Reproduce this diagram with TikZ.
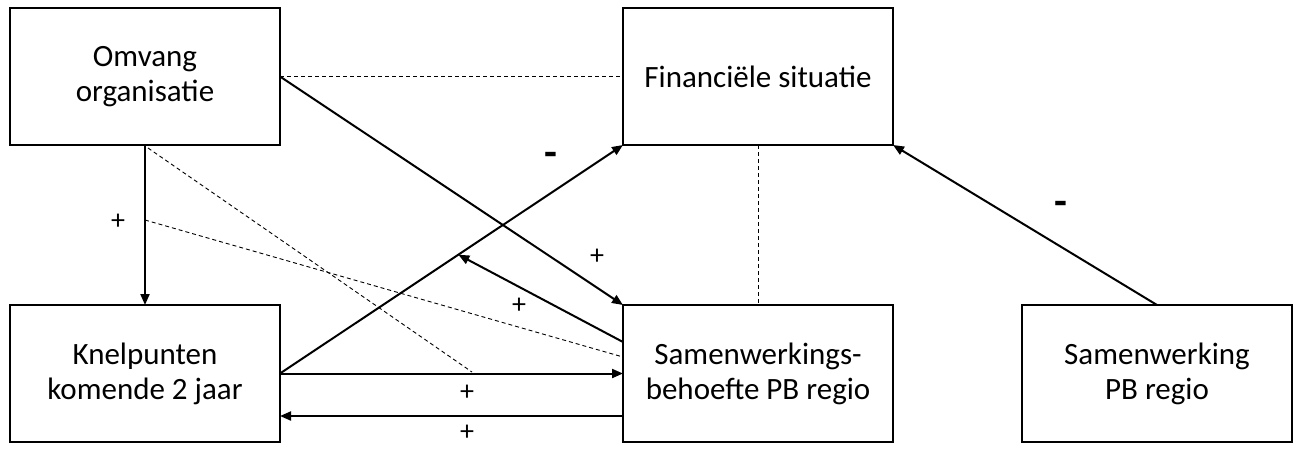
\documentclass[tikz,border=0pt]{standalone}
\usepackage{fontspec}
\setmainfont{Carlito}
\usetikzlibrary{arrows.meta,calc}
\begin{document}
\begin{tikzpicture}[x=1pt,y=-1pt,
  box/.style={draw, line width=2pt, minimum width=270pt, minimum height=137pt,
    inner sep=0pt, outer sep=0pt, align=center, font=\fontsize{31}{35}\selectfont},
  link/.style={line width=2pt, -{Triangle[length=11pt,width=9pt]}},
  dashline/.style={line width=0.9pt, dash pattern=on 4pt off 3pt},
  sign/.style={font=\fontsize{28}{30}\selectfont, inner sep=0pt},
  minus/.style={font=\fontsize{42}{42}\selectfont\bfseries, inner sep=0pt}]
\useasboundingbox (0,0) rectangle (1298,448);
\node[box] (omv) at (145,76.5) {Omvang\\organisatie};
\node[box] (fin) at (758,76.5) {Financiële situatie};
\node[box] (kn) at (145,373.5) {Knelpunten\\komende 2 jaar};
\node[box] (sb) at (758,373.5) {Samenwerkings-\\behoefte PB regio};
\node[box] (spb) at (1157,373.5) {Samenwerking\\PB regio};
% coordinates
\coordinate (d1s) at (148,148);
\coordinate (d1e) at (472,372);
\coordinate (d2s) at (145,220);
\coordinate (m) at ($(kn.east)!0.52!(fin.south west)$);
% dashed links
\draw[dashline] (omv.east) -- (fin.west);
\draw[dashline] (fin.south) -- (sb.north);
\draw[dashline] (d1s) -- (d1e);
\draw[dashline] (d2s) -- ([yshift=16.5pt]sb.west);
% solid links
\draw[link] (omv.south) -- (kn.north);
\draw[link] (omv.east) -- (sb.north west);
\draw[link] (kn.east) -- (fin.south west);
\draw[link] ([yshift=31.5pt]sb.west) -- (m);
\draw[link] (kn.east) -- (sb.west);
\draw[link] ([yshift=-42.5pt]sb.west) -- ([yshift=-42.5pt]kn.east);
\draw[link] (spb.north) -- (fin.south east);
% signs
\node[sign] (s1) at (118,222) {+};
\node[minus] (s2) at (551,159) {-};
\node[sign] (s3) at (597,257) {+};
\node[sign] (s4) at (519,306) {+};
\node[sign] (s5) at (467,393) {+};
\node[sign] (s6) at (467,433) {+};
\node[minus] (s7) at (1061,208) {-};
\end{tikzpicture}
\end{document}
